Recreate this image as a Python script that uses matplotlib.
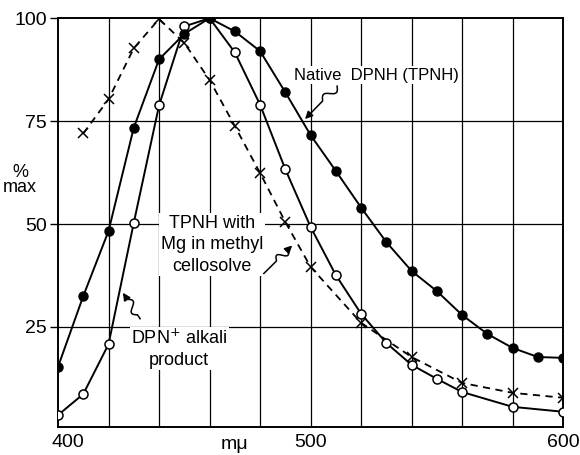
import numpy as np
import matplotlib
matplotlib.use('Agg')
import matplotlib.pyplot as plt
from matplotlib.transforms import ScaledTranslation

# ── Data (wavelength in mμ, % of max) ────────────────────────────────────────
WL_NATIVE = [400, 410, 420, 430, 440, 450, 460, 470, 480, 490, 500,
             510, 520, 530, 540, 550, 560, 570, 580, 590, 600]
NATIVE    = [15.3, 32.5, 48.3, 73.4, 90.0, 96.2, 100, 96.8, 92.0, 82.0, 71.6,
             62.9, 54.0, 45.6, 38.6, 33.7, 27.9, 23.3, 19.9, 17.7, 17.5]

WL_ALKALI = [400, 410, 420, 430, 440, 450, 460, 470, 480, 490, 500,
             510, 520, 530, 540, 550, 560, 580, 600]
ALKALI    = [3.6, 8.7, 20.8, 50.3, 78.8, 98.0, 100, 91.7, 79.0, 63.3, 49.3,
             37.6, 28.2, 21.1, 15.8, 12.4, 9.2, 5.6, 4.4]

WL_MG = [410, 420, 430, 440, 450, 460, 470, 480, 490, 500,
         520, 540, 560, 580, 600]
MG    = [72.0, 80.3, 92.7, 99.8, 94.0, 85.0, 73.8, 62.4, 50.5, 39.6,
         26.0, 17.7, 11.4, 9.0, 7.8]

X_TICKS = [400, 500, 600]
Y_TICKS = [25, 50, 75, 100]

plt.rcParams.update({'font.family': ['Liberation Sans', 'DejaVu Sans']})

fig = plt.figure(figsize=(5.8, 4.55), dpi=100)
ax = fig.add_axes([0.100, 0.0615, 0.871, 0.8985])

# grid (every 20 mμ, every 25 %)
for xv in np.arange(420, 600, 20):
    ax.axvline(xv, color='black', lw=0.9, zorder=1)
for yv in Y_TICKS[:-1]:
    ax.axhline(yv, color='black', lw=0.9, zorder=1)

ax.plot(WL_MG, MG, color='black', ls=(0, (4, 3)), lw=1.3, marker='x',
        ms=7, mew=1.1, zorder=3)
ax.plot(WL_ALKALI, ALKALI, color='black', lw=1.4, marker='o', ms=6.5,
        mfc='white', mec='black', mew=1.1, zorder=4)
ax.plot(WL_NATIVE, NATIVE, color='black', lw=1.4, marker='o', ms=6.5,
        mfc='black', mec='black', zorder=5)

ax.set_xlim(400, 600)
ax.set_ylim(0.7, 100)
ax.set_xticks(X_TICKS)
ax.set_yticks(Y_TICKS)
ax.tick_params(axis='y', direction='out', length=6, width=1.0, labelsize=14, pad=2)
ax.tick_params(axis='x', length=0, labelsize=14, pad=5)
# "400" sits a little right of the corner in the original
xl = ax.get_xticklabels()
xl[0].set_transform(xl[0].get_transform() +
                    ScaledTranslation(10/100, 0, fig.dpi_scale_trans))
for sp in ax.spines.values():
    sp.set_linewidth(1.4)

ax.text(-0.075, 0.605, '%\nmax', transform=ax.transAxes, fontsize=13,
        ha='center', va='center', linespacing=0.85)
ax.text(470, -1.6, 'mμ', fontsize=14, ha='center', va='top')

wb = dict(facecolor='white', edgecolor='none', pad=1.0)
ax.text(526, 86.2, 'Native  DPNH (TPNH)', fontsize=12, ha='center',
        va='center', bbox=wb, zorder=6)
ax.text(461, 45.0, 'TPNH with\nMg in methyl\ncellosolve', fontsize=13,
        ha='center', va='center', linespacing=1.35, bbox=wb, zorder=6)
ax.text(448, 19.8, 'DPN$^{+}$ alkali\nproduct', fontsize=13,
        ha='center', va='center', linespacing=1.35, bbox=wb, zorder=6)


def squiggle(tail, tip, s_start, s_end, amp=4.0):
    """Hand-drawn 'S' leader line with an arrow head, in data coords."""
    p0 = ax.transData.transform(tail)
    p1 = ax.transData.transform(tip)
    d = p1 - p0
    L = np.hypot(*d)
    u = d / L
    n = np.array([-u[1], u[0]])
    t = np.linspace(0, 1, 80)
    off = np.where((t >= s_start) & (t <= s_end),
                   amp * np.sin(2*np.pi*(t - s_start)/(s_end - s_start)), 0)
    pts = p0[None, :] + t[:, None]*d[None, :] + off[:, None]*n[None, :]
    dpts = ax.transData.inverted().transform(pts)
    ax.plot(dpts[:-6, 0], dpts[:-6, 1], color='black', lw=1.1, zorder=6)
    ax.annotate('', xy=tip, xytext=tuple(dpts[-8]),
                arrowprops=dict(arrowstyle='-|>', color='black', lw=1.1,
                                mutation_scale=11, shrinkA=0, shrinkB=0),
                zorder=6)


squiggle((510.5, 83.5), (497.8, 75.5), 0.0, 0.45)
squiggle((481.5, 38.0), (492.7, 44.8), 0.45, 0.85)
squiggle((432.5, 27.0), (425.7, 33.3), 0.15, 0.75)

fig.savefig('out.png', dpi=100)
